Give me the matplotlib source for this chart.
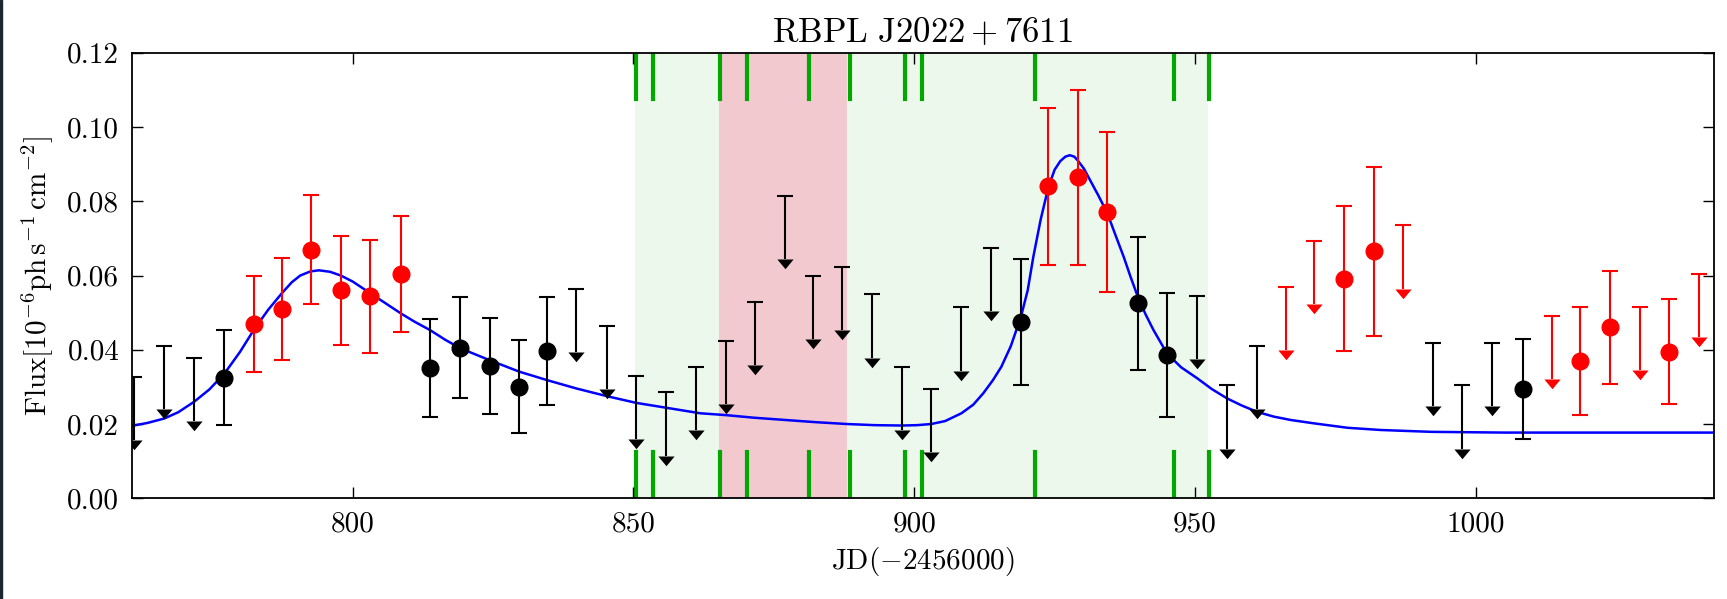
import numpy as np
import matplotlib.pyplot as plt
from matplotlib.patches import Rectangle
from matplotlib.ticker import FormatStrFormatter

plt.rcParams['font.family'] = 'serif'
plt.rcParams['font.serif'] = ['cmr10']
plt.rcParams['mathtext.fontset'] = 'cm'

# detections (black)
det_k_x = [777.2, 813.8, 819.2, 824.4, 829.7, 834.7, 919.0, 939.8, 945.0, 1008.3]
det_k_y = [0.0325, 0.0350, 0.0406, 0.0356, 0.0300, 0.0396, 0.0475, 0.0525, 0.0385, 0.0294]
det_k_err = [0.0128, 0.0132, 0.0135, 0.0130, 0.0125, 0.0145, 0.0170, 0.0180, 0.0167, 0.0135]

# detections (red)
det_r_x = [782.4, 787.4, 792.6, 797.9, 803.2, 808.6, 923.9, 929.1, 934.4,
           976.5, 981.8, 1018.6, 1023.8, 1034.4]
det_r_y = [0.0470, 0.0509, 0.0670, 0.0560, 0.0544, 0.0604, 0.0840, 0.0864, 0.0771,
           0.0591, 0.0665, 0.0370, 0.0460, 0.0395]
det_r_err = [0.0130, 0.0137, 0.0148, 0.0147, 0.0152, 0.0155, 0.0212, 0.0235, 0.0216,
             0.0195, 0.0227, 0.0146, 0.0153, 0.0142]

# upper limits (black)
ul_k_x = [761.1, 766.5, 771.8, 839.8, 845.3, 850.5, 855.8, 861.1, 866.5, 871.7,
          877.0, 881.9, 887.2, 892.5, 897.8, 903.0, 908.4, 913.6, 950.4, 955.7,
          961.0, 992.4, 997.6, 1002.9]
ul_k_y = [0.0327, 0.0410, 0.0378, 0.0565, 0.0464, 0.0329, 0.0285, 0.0354, 0.0424, 0.0529,
          0.0814, 0.0599, 0.0623, 0.0549, 0.0354, 0.0294, 0.0514, 0.0674, 0.0544, 0.0304,
          0.0410, 0.0419, 0.0304, 0.0419]

# upper limits (red)
ul_r_x = [966.1, 971.1, 987.1, 1013.5, 1029.2, 1039.7]
ul_r_y = [0.0570, 0.0694, 0.0735, 0.0490, 0.0516, 0.0605]

# fitted light curve
fit_x = [760.7, 763.5, 766.5, 769.0, 771.8, 774.5, 777.2, 780.0, 782.4, 785.0,
         787.4, 789.2, 790.7, 792.5, 794.0, 796.0, 797.9, 800.0, 803.2, 806.0,
         808.6, 811.0, 813.8, 816.5, 819.2, 824.4, 829.7, 834.7, 839.8, 845.3,
         850.5, 855.8, 861.9, 866.5, 871.5, 877.0, 882.5, 888.1, 893.0, 897.8,
         900.5, 903.0, 905.5, 908.4, 910.5, 912.3, 914.0, 915.5, 917.2, 919.0,
         920.2, 921.2, 922.5, 923.9, 925.0, 926.0, 926.9, 927.7, 928.5, 929.1,
         930.2, 931.3, 932.8, 934.4, 935.8, 937.3, 938.5, 939.8, 941.2, 942.6,
         945.0, 947.5, 950.4, 953.0, 955.7, 958.3, 961.0, 964.0, 967.0, 971.1,
         977.1, 983.0, 992.0, 1005.0, 1020.0, 1042.3]
fit_y = [0.0195, 0.0203, 0.0215, 0.0232, 0.0260, 0.0293, 0.0336, 0.0395, 0.0453, 0.0508,
         0.0552, 0.0582, 0.0600, 0.0611, 0.0614, 0.0610, 0.0600, 0.0584, 0.0552, 0.0524,
         0.0498, 0.0476, 0.0453, 0.0427, 0.0404, 0.0372, 0.0341, 0.0318, 0.0296, 0.0275,
         0.0257, 0.0244, 0.0229, 0.0224, 0.0217, 0.0211, 0.0205, 0.0200, 0.0197, 0.0196,
         0.0197, 0.0200, 0.0208, 0.0229, 0.0252, 0.0283, 0.0318, 0.0354, 0.0410, 0.0489,
         0.0560, 0.0650, 0.0750, 0.0839, 0.0885, 0.0908, 0.0920, 0.0924, 0.0920, 0.0910,
         0.0888, 0.0857, 0.0815, 0.0767, 0.0710, 0.0650, 0.0597, 0.0543, 0.0495, 0.0453,
         0.0390, 0.0353, 0.0323, 0.0294, 0.0269, 0.0250, 0.0233, 0.0220, 0.0211, 0.0202,
         0.0190, 0.0184, 0.0179, 0.0177, 0.0177, 0.0177]

# shaded intervals and marks
green_span = (850.3, 952.3)
red_span = (865.3, 888.1)
green_marks = [850.4, 853.5, 865.35, 870.3, 881.2, 888.5, 898.4, 901.3, 921.5, 946.3, 952.4]

ul_len = 0.017
arrow = [(-1, 0), (1, 0), (0, -1.2), (-1, 0)]

fig = plt.figure(figsize=(17.27, 5.99), dpi=100)
ax = fig.add_axes([0.0763, 0.1681, 0.9159, 0.7439])

ax.axvspan(*green_span, color='#edf8ec', lw=0, zorder=0)
ax.axvspan(*red_span, color='#f3c9d0', lw=0, zorder=0.5)
for xm in green_marks:
    ax.axvline(xm, ymin=0, ymax=0.103, color='#00a800', lw=3, zorder=1)
    ax.axvline(xm, ymin=0.897, ymax=1, color='#00a800', lw=3, zorder=1)

ax.plot(fit_x, fit_y, color='b', lw=1.8, zorder=2)

for xs, ys, c in [(ul_k_x, ul_k_y, 'k'), (ul_r_x, ul_r_y, 'r')]:
    ys = np.array(ys)
    ax.vlines(xs, ys - ul_len, ys, color=c, lw=1.5, zorder=3)
    ax.plot(xs, ys, ls='none', marker='_', ms=11, mew=1.5, color=c, zorder=3)
    ax.plot(xs, ys - ul_len, ls='none', marker=arrow, ms=14, mew=0, color=c, zorder=3)

ax.errorbar(det_k_x, det_k_y, yerr=det_k_err, fmt='o', color='k', ms=12,
            elinewidth=1.5, capsize=5.5, capthick=1.5, zorder=4)
ax.errorbar(det_r_x, det_r_y, yerr=det_r_err, fmt='o', color='r', ms=12,
            elinewidth=1.5, capsize=5.5, capthick=1.5, zorder=4)

ax.set_xlim(760.7, 1042.3)
ax.set_ylim(0, 0.12)
ax.set_xticks([800, 850, 900, 950, 1000])
ax.set_yticks(np.arange(0, 0.121, 0.02))
ax.yaxis.set_major_formatter(FormatStrFormatter('%.2f'))
ax.xaxis.set_major_formatter(FormatStrFormatter('%d'))
ax.tick_params(direction='in', top=True, right=True, length=8, width=1,
               labelsize=21, pad=9)
for s in ax.spines.values():
    s.set_linewidth(1.3)

ax.set_title(r'$\mathrm{RBPL\ J2022+7611}$', fontsize=25, pad=8)
ax.set_xlabel(r'$\mathrm{JD(-2456000)}$', fontsize=21, labelpad=6)
ax.set_ylabel(r'$\mathrm{Flux[10^{-6}ph\,s^{-1}\,cm^{-2}]}$', fontsize=21, labelpad=8)

fig.patches.append(Rectangle((0, 0), 2 / 1727, 1, transform=fig.transFigure,
                             color='#1b2633', zorder=10))

fig.savefig('out.png', dpi=100)
